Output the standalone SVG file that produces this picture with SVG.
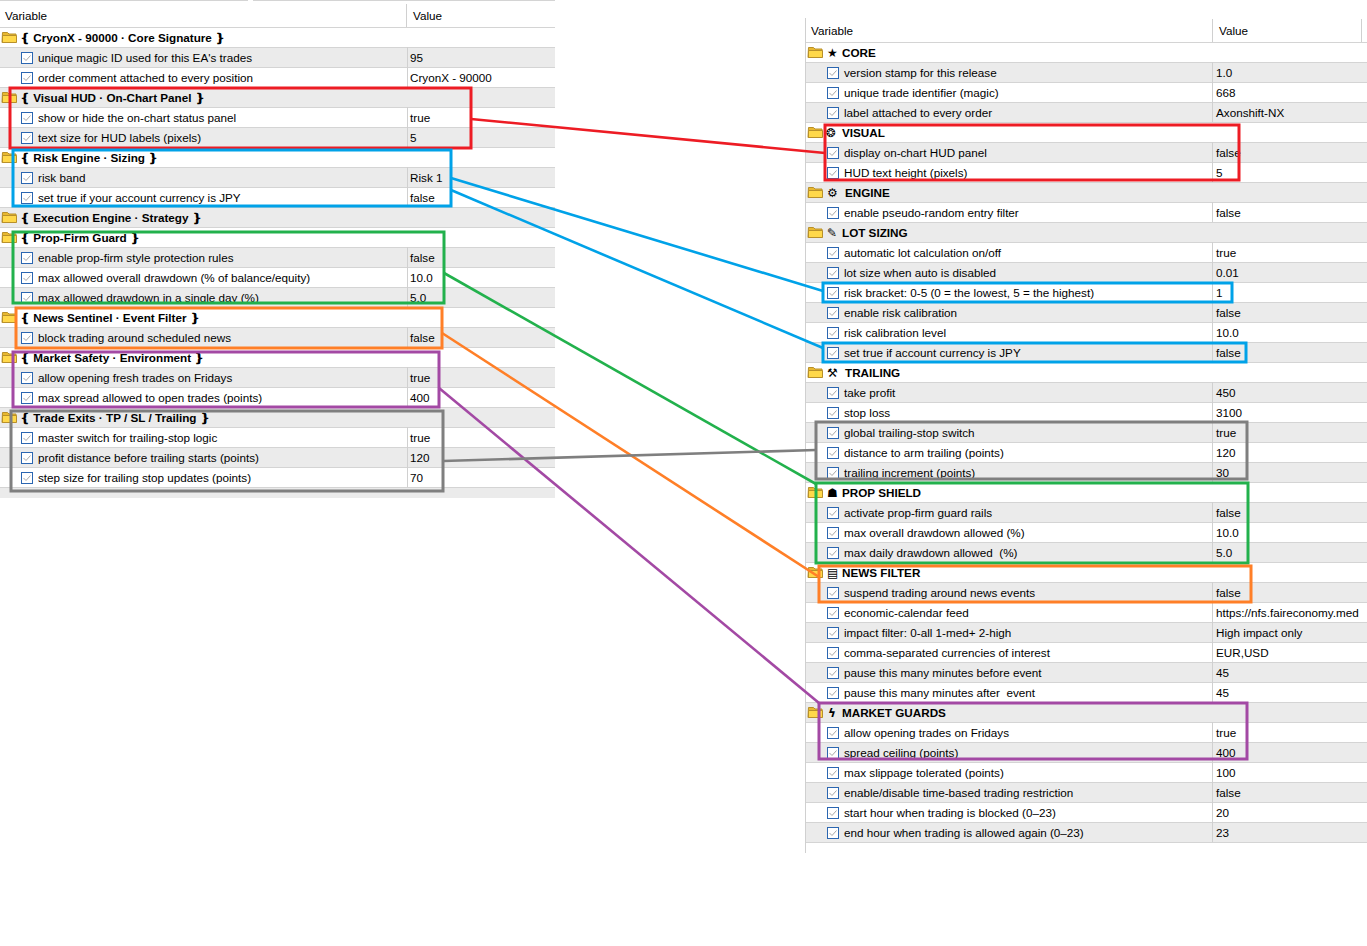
<svg xmlns="http://www.w3.org/2000/svg" xmlns:xlink="http://www.w3.org/1999/xlink" width="1367" height="946" viewBox="0 0 1367 946">
<style>
text{font-family:"Liberation Sans",Arial,sans-serif;font-size:11.7px;fill:#000;white-space:pre}
.h{font-weight:bold}
.ic{font-family:"DejaVu Sans",sans-serif;font-size:12px;font-weight:bold}
.g{fill:#ebebeb}
.grid{stroke:#d4d4d4;stroke-width:1;fill:none}
.div{stroke:#d0d0d0;stroke-width:1;fill:none}
.box{fill:none;stroke-width:3}
.con{fill:none;stroke-width:2.6}
.red{stroke:#ed1c24}.blue{stroke:#00a2e8}.green{stroke:#22b14c}.orange{stroke:#ff7f27}.purple{stroke:#a349a4}.gray{stroke:#7f7f7f}
</style>
<defs>
<g id="folder"><path d="M0.5,1.5h5l1.5,1.5h7v8.5h-14z" fill="#e8b830" stroke="#b8902a"/><path d="M0.5,4.5h14v7h-14z" fill="#ffd84a" stroke="#b8902a"/></g>
<g id="chk"><rect x="0.5" y="0.5" width="11" height="11" fill="#fff" stroke="#2b66b1"/><path d="M2.5,6l2.5,2.5l4.5,-5" fill="none" stroke="#a8a8a8"/></g>
</defs>
<rect width="1367" height="946" fill="#fff"/>

<g id="left-panel">
<path class="grid" d="M0,0.5H248M253,0.5H555"/>
<path class="div" d="M406.5,4V27"/>
<text x="5" y="20">Variable</text>
<text x="413" y="20">Value</text>
<rect class="g" x="0" y="47" width="555" height="20"/>
<rect class="g" x="0" y="87" width="555" height="20"/>
<rect class="g" x="0" y="127" width="555" height="20"/>
<rect class="g" x="0" y="167" width="555" height="20"/>
<rect class="g" x="0" y="207" width="555" height="20"/>
<rect class="g" x="0" y="247" width="555" height="20"/>
<rect class="g" x="0" y="287" width="555" height="20"/>
<rect class="g" x="0" y="327" width="555" height="20"/>
<rect class="g" x="0" y="367" width="555" height="20"/>
<rect class="g" x="0" y="407" width="555" height="20"/>
<rect class="g" x="0" y="447" width="555" height="20"/>
<rect class="g" x="0" y="487" width="555" height="11"/>
<path class="grid" d="M0,27.5H555M0,47.5H555M0,67.5H555M0,87.5H555M0,107.5H555M0,127.5H555M0,147.5H555M0,167.5H555M0,187.5H555M0,207.5H555M0,227.5H555M0,247.5H555M0,267.5H555M0,287.5H555M0,307.5H555M0,327.5H555M0,347.5H555M0,367.5H555M0,387.5H555M0,407.5H555M0,427.5H555M0,447.5H555M0,467.5H555M0,487.5H555"/>
<path class="div" d="M407.5,47V87M407.5,107V147M407.5,167V207M407.5,247V307M407.5,327V347M407.5,367V407M407.5,427V487"/>
<g id="left-headers">
<use xlink:href="#folder" x="2" y="31"/><text class="h" x="20" y="41.5">❴ CryonX - 90000 · Core Signature ❵</text>
<use xlink:href="#folder" x="2" y="91"/><text class="h" x="20" y="101.5">❴ Visual HUD · On-Chart Panel ❵</text>
<use xlink:href="#folder" x="2" y="151"/><text class="h" x="20" y="161.5">❴ Risk Engine · Sizing ❵</text>
<use xlink:href="#folder" x="2" y="211"/><text class="h" x="20" y="221.5">❴ Execution Engine · Strategy ❵</text>
<use xlink:href="#folder" x="2" y="231"/><text class="h" x="20" y="241.5">❴ Prop-Firm Guard ❵</text>
<use xlink:href="#folder" x="2" y="311"/><text class="h" x="20" y="321.5">❴ News Sentinel · Event Filter ❵</text>
<use xlink:href="#folder" x="2" y="351"/><text class="h" x="20" y="361.5">❴ Market Safety · Environment ❵</text>
<use xlink:href="#folder" x="2" y="411"/><text class="h" x="20" y="421.5">❴ Trade Exits · TP / SL / Trailing ❵</text>
</g>
<g id="left-items">
<use xlink:href="#chk" x="21" y="52"/><text x="38" y="61.5">unique magic ID used for this EA's trades</text><text x="410" y="61.5">95</text>
<use xlink:href="#chk" x="21" y="72"/><text x="38" y="81.5">order comment attached to every position</text><text x="410" y="81.5">CryonX - 90000</text>
<use xlink:href="#chk" x="21" y="112"/><text x="38" y="121.5">show or hide the on-chart status panel</text><text x="410" y="121.5">true</text>
<use xlink:href="#chk" x="21" y="132"/><text x="38" y="141.5">text size for HUD labels (pixels)</text><text x="410" y="141.5">5</text>
<use xlink:href="#chk" x="21" y="172"/><text x="38" y="181.5">risk band</text><text x="410" y="181.5">Risk 1</text>
<use xlink:href="#chk" x="21" y="192"/><text x="38" y="201.5">set true if your account currency is JPY</text><text x="410" y="201.5">false</text>
<use xlink:href="#chk" x="21" y="252"/><text x="38" y="261.5">enable prop-firm style protection rules</text><text x="410" y="261.5">false</text>
<use xlink:href="#chk" x="21" y="272"/><text x="38" y="281.5">max allowed overall drawdown (% of balance/equity)</text><text x="410" y="281.5">10.0</text>
<use xlink:href="#chk" x="21" y="292"/><text x="38" y="301.5">max allowed drawdown in a single day (%)</text><text x="410" y="301.5">5.0</text>
<use xlink:href="#chk" x="21" y="332"/><text x="38" y="341.5">block trading around scheduled news</text><text x="410" y="341.5">false</text>
<use xlink:href="#chk" x="21" y="372"/><text x="38" y="381.5">allow opening fresh trades on Fridays</text><text x="410" y="381.5">true</text>
<use xlink:href="#chk" x="21" y="392"/><text x="38" y="401.5">max spread allowed to open trades (points)</text><text x="410" y="401.5">400</text>
<use xlink:href="#chk" x="21" y="432"/><text x="38" y="441.5">master switch for trailing-stop logic</text><text x="410" y="441.5">true</text>
<use xlink:href="#chk" x="21" y="452"/><text x="38" y="461.5">profit distance before trailing starts (points)</text><text x="410" y="461.5">120</text>
<use xlink:href="#chk" x="21" y="472"/><text x="38" y="481.5">step size for trailing stop updates (points)</text><text x="410" y="481.5">70</text>
</g>
</g>

<g id="right-panel">
<path class="div" d="M805.5,18V853M1212.5,19V42M1361.5,19V42"/>
<text x="811" y="35">Variable</text>
<text x="1219" y="35">Value</text>
<rect class="g" x="806" y="62" width="561" height="20"/>
<rect class="g" x="806" y="102" width="561" height="20"/>
<rect class="g" x="806" y="142" width="561" height="20"/>
<rect class="g" x="806" y="182" width="561" height="20"/>
<rect class="g" x="806" y="222" width="561" height="20"/>
<rect class="g" x="806" y="262" width="561" height="20"/>
<rect class="g" x="806" y="302" width="561" height="20"/>
<rect class="g" x="806" y="342" width="561" height="20"/>
<rect class="g" x="806" y="382" width="561" height="20"/>
<rect class="g" x="806" y="422" width="561" height="20"/>
<rect class="g" x="806" y="462" width="561" height="20"/>
<rect class="g" x="806" y="502" width="561" height="20"/>
<rect class="g" x="806" y="542" width="561" height="20"/>
<rect class="g" x="806" y="582" width="561" height="20"/>
<rect class="g" x="806" y="622" width="561" height="20"/>
<rect class="g" x="806" y="662" width="561" height="20"/>
<rect class="g" x="806" y="702" width="561" height="20"/>
<rect class="g" x="806" y="742" width="561" height="20"/>
<rect class="g" x="806" y="782" width="561" height="20"/>
<rect class="g" x="806" y="822" width="561" height="20"/>
<path class="grid" d="M806,42.5H1367M806,62.5H1367M806,82.5H1367M806,102.5H1367M806,122.5H1367M806,142.5H1367M806,162.5H1367M806,182.5H1367M806,202.5H1367M806,222.5H1367M806,242.5H1367M806,262.5H1367M806,282.5H1367M806,302.5H1367M806,322.5H1367M806,342.5H1367M806,362.5H1367M806,382.5H1367M806,402.5H1367M806,422.5H1367M806,442.5H1367M806,462.5H1367M806,482.5H1367M806,502.5H1367M806,522.5H1367M806,542.5H1367M806,562.5H1367M806,582.5H1367M806,602.5H1367M806,622.5H1367M806,642.5H1367M806,662.5H1367M806,682.5H1367M806,702.5H1367M806,722.5H1367M806,742.5H1367M806,762.5H1367M806,782.5H1367M806,802.5H1367M806,822.5H1367M806,842.5H1367"/>
<path class="div" d="M1212.5,62V122M1212.5,142V182M1212.5,202V222M1212.5,242V362M1212.5,382V482M1212.5,502V562M1212.5,582V702M1212.5,722V842"/>
<g id="right-headers">
<use xlink:href="#folder" x="808" y="46"/><text class="ic" x="827" y="57">★</text><text class="h" x="842" y="56.5">CORE</text>
<use xlink:href="#folder" x="808" y="126"/><text class="ic" x="826" y="137">❂</text><text class="h" x="842" y="136.5">VISUAL</text>
<use xlink:href="#folder" x="808" y="186"/><text class="ic" x="827" y="197">⚙</text><text class="h" x="845" y="196.5">ENGINE</text>
<use xlink:href="#folder" x="808" y="226"/><text class="ic" x="827" y="237">✎</text><text class="h" x="842" y="236.5">LOT SIZING</text>
<use xlink:href="#folder" x="808" y="366"/><text class="ic" x="827" y="377">⚒</text><text class="h" x="845" y="376.5">TRAILING</text>
<use xlink:href="#folder" x="808" y="486"/><text class="ic" x="827" y="497">☗</text><text class="h" x="842" y="496.5">PROP SHIELD</text>
<use xlink:href="#folder" x="808" y="566"/><text class="ic" x="827" y="577">▤</text><text class="h" x="842" y="576.5">NEWS FILTER</text>
<use xlink:href="#folder" x="808" y="706"/><text class="ic" x="828" y="717">ϟ</text><text class="h" x="842" y="716.5">MARKET GUARDS</text>
</g>
<g id="right-items">
<use xlink:href="#chk" x="827" y="67"/><text x="844" y="76.5">version stamp for this release</text><text x="1216" y="76.5">1.0</text>
<use xlink:href="#chk" x="827" y="87"/><text x="844" y="96.5">unique trade identifier (magic)</text><text x="1216" y="96.5">668</text>
<use xlink:href="#chk" x="827" y="107"/><text x="844" y="116.5">label attached to every order</text><text x="1216" y="116.5">Axonshift-NX</text>
<use xlink:href="#chk" x="827" y="147"/><text x="844" y="156.5">display on-chart HUD panel</text><text x="1216" y="156.5">false</text>
<use xlink:href="#chk" x="827" y="167"/><text x="844" y="176.5">HUD text height (pixels)</text><text x="1216" y="176.5">5</text>
<use xlink:href="#chk" x="827" y="207"/><text x="844" y="216.5">enable pseudo-random entry filter</text><text x="1216" y="216.5">false</text>
<use xlink:href="#chk" x="827" y="247"/><text x="844" y="256.5">automatic lot calculation on/off</text><text x="1216" y="256.5">true</text>
<use xlink:href="#chk" x="827" y="267"/><text x="844" y="276.5">lot size when auto is disabled</text><text x="1216" y="276.5">0.01</text>
<use xlink:href="#chk" x="827" y="287"/><text x="844" y="296.5">risk bracket: 0-5 (0 = the lowest, 5 = the highest)</text><text x="1216" y="296.5">1</text>
<use xlink:href="#chk" x="827" y="307"/><text x="844" y="316.5">enable risk calibration</text><text x="1216" y="316.5">false</text>
<use xlink:href="#chk" x="827" y="327"/><text x="844" y="336.5">risk calibration level</text><text x="1216" y="336.5">10.0</text>
<use xlink:href="#chk" x="827" y="347"/><text x="844" y="356.5">set true if account currency is JPY</text><text x="1216" y="356.5">false</text>
<use xlink:href="#chk" x="827" y="387"/><text x="844" y="396.5">take profit</text><text x="1216" y="396.5">450</text>
<use xlink:href="#chk" x="827" y="407"/><text x="844" y="416.5">stop loss</text><text x="1216" y="416.5">3100</text>
<use xlink:href="#chk" x="827" y="427"/><text x="844" y="436.5">global trailing-stop switch</text><text x="1216" y="436.5">true</text>
<use xlink:href="#chk" x="827" y="447"/><text x="844" y="456.5">distance to arm trailing (points)</text><text x="1216" y="456.5">120</text>
<use xlink:href="#chk" x="827" y="467"/><text x="844" y="476.5">trailing increment (points)</text><text x="1216" y="476.5">30</text>
<use xlink:href="#chk" x="827" y="507"/><text x="844" y="516.5">activate prop-firm guard rails</text><text x="1216" y="516.5">false</text>
<use xlink:href="#chk" x="827" y="527"/><text x="844" y="536.5">max overall drawdown allowed (%)</text><text x="1216" y="536.5">10.0</text>
<use xlink:href="#chk" x="827" y="547"/><text x="844" y="556.5">max daily drawdown allowed  (%)</text><text x="1216" y="556.5">5.0</text>
<use xlink:href="#chk" x="827" y="587"/><text x="844" y="596.5">suspend trading around news events</text><text x="1216" y="596.5">false</text>
<use xlink:href="#chk" x="827" y="607"/><text x="844" y="616.5">economic-calendar feed</text><text x="1216" y="616.5">https://nfs.faireconomy.med</text>
<use xlink:href="#chk" x="827" y="627"/><text x="844" y="636.5">impact filter: 0-all 1-med+ 2-high</text><text x="1216" y="636.5">High impact only</text>
<use xlink:href="#chk" x="827" y="647"/><text x="844" y="656.5">comma-separated currencies of interest</text><text x="1216" y="656.5">EUR,USD</text>
<use xlink:href="#chk" x="827" y="667"/><text x="844" y="676.5">pause this many minutes before event</text><text x="1216" y="676.5">45</text>
<use xlink:href="#chk" x="827" y="687"/><text x="844" y="696.5">pause this many minutes after  event</text><text x="1216" y="696.5">45</text>
<use xlink:href="#chk" x="827" y="727"/><text x="844" y="736.5">allow opening trades on Fridays</text><text x="1216" y="736.5">true</text>
<use xlink:href="#chk" x="827" y="747"/><text x="844" y="756.5">spread ceiling (points)</text><text x="1216" y="756.5">400</text>
<use xlink:href="#chk" x="827" y="767"/><text x="844" y="776.5">max slippage tolerated (points)</text><text x="1216" y="776.5">100</text>
<use xlink:href="#chk" x="827" y="787"/><text x="844" y="796.5">enable/disable time-based trading restriction</text><text x="1216" y="796.5">false</text>
<use xlink:href="#chk" x="827" y="807"/><text x="844" y="816.5">start hour when trading is blocked (0–23)</text><text x="1216" y="816.5">20</text>
<use xlink:href="#chk" x="827" y="827"/><text x="844" y="836.5">end hour when trading is allowed again (0–23)</text><text x="1216" y="836.5">23</text>
</g>
</g>

<g id="box-visual-left"><rect class="box red" x="10" y="88" width="461" height="60"/></g>
<g id="box-visual-right"><rect class="box red" x="825" y="125" width="414" height="55"/></g>
<g id="box-risk-left"><rect class="box blue" x="13" y="150" width="438" height="56"/></g>
<g id="box-risk-bracket-right"><rect class="box blue" x="823" y="283" width="409" height="19"/></g>
<g id="box-jpy-right"><rect class="box blue" x="823" y="343" width="423" height="19"/></g>
<g id="box-prop-left"><rect class="box green" x="13" y="232" width="431" height="71"/></g>
<g id="box-prop-right"><rect class="box green" x="816" y="483" width="432" height="80"/></g>
<g id="box-news-left"><rect class="box orange" x="16" y="308" width="426" height="40"/></g>
<g id="box-news-right"><rect class="box orange" x="819" y="566" width="432" height="36"/></g>
<g id="box-market-left"><rect class="box purple" x="13" y="352" width="426" height="55"/></g>
<g id="box-market-right"><rect class="box purple" x="819" y="703" width="428" height="56"/></g>
<g id="box-trail-left"><rect class="box gray" x="11" y="411" width="432" height="80"/></g>
<g id="box-trail-right"><rect class="box gray" x="816" y="422" width="431" height="57"/></g>

<g id="connectors">
<line class="con red" x1="471" y1="119" x2="825" y2="153"/>
<line class="con blue" x1="451" y1="178" x2="823" y2="291"/>
<line class="con blue" x1="451" y1="190" x2="823" y2="348"/>
<line class="con green" x1="444" y1="273" x2="816" y2="484"/>
<line class="con orange" x1="442" y1="333" x2="819" y2="577"/>
<line class="con purple" x1="439" y1="388" x2="819" y2="703"/>
<line class="con gray" x1="443" y1="461" x2="816" y2="450"/>
</g>
</svg>
